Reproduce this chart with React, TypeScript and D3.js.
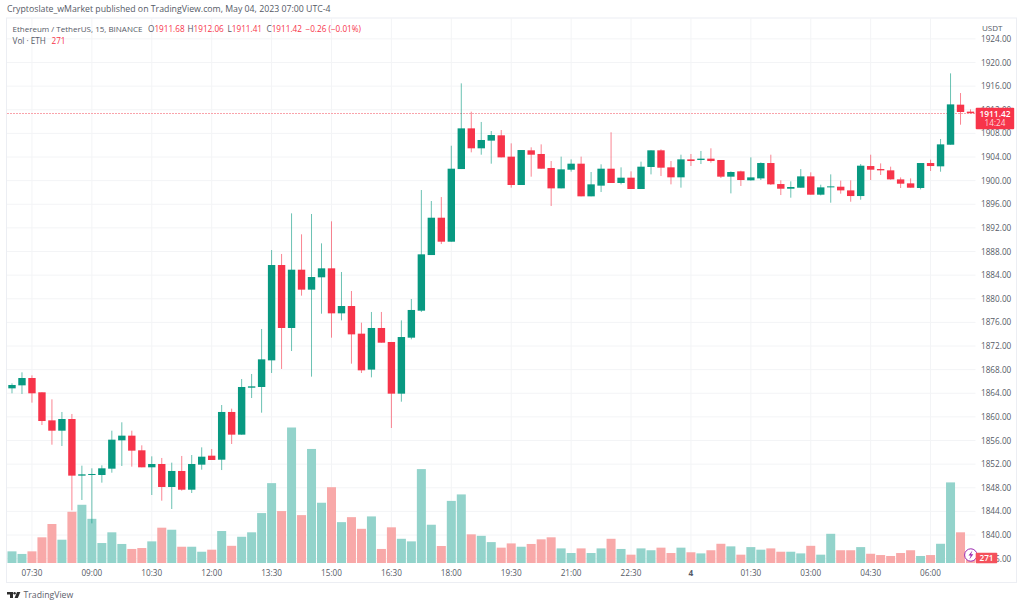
import React from 'react';
import * as d3 from 'd3';

// 15 min candles, ETH/USDT, first bar is 07:00
const opens = [
  1864.83, 1865.34, 1866.58, 1864.16, 1859.41, 1857.66, 1859.64, 1850.05, 1850.16, 1850.16,
  1851.23, 1856.03, 1856.82, 1854.34, 1851.46, 1852.02, 1848.13, 1850.84, 1847.67, 1851.91,
  1853.43, 1852.75, 1860.83, 1856.99, 1864.94, 1865.06, 1869.57, 1885.71, 1875.05, 1884.92,
  1881.54, 1883.63, 1885.15, 1877.53, 1878.77, 1874.09, 1868.0, 1875.05, 1872.68, 1863.93,
  1873.41, 1877.98, 1887.4, 1893.72, 1889.66, 1901.96, 1908.85, 1905.47, 1906.77, 1907.67,
  1904.06, 1899.26, 1905.13, 1904.51, 1902.14, 1898.69, 1901.85, 1902.87, 1897.34, 1899.15,
  1902.02, 1899.6, 1900.5, 1898.58, 1902.31, 1905.13, 1902.25, 1900.56, 1903.6, 1903.49,
  1903.72, 1903.49, 1900.67, 1901.57, 1900.05, 1900.38, 1902.98, 1899.42, 1898.63, 1898.8,
  1900.72, 1897.62, 1898.86, 1898.97, 1898.35, 1897.39, 1902.47, 1901.96, 1901.74, 1900.21,
  1899.54, 1898.75, 1902.98, 1902.42, 1906.08, 1912.86, 1911.68,
];
const closes = [
  1865.4, 1866.58, 1863.99, 1859.3, 1857.66, 1859.64, 1850.05, 1850.27, 1850.33, 1851.29,
  1856.14, 1856.82, 1854.28, 1851.46, 1852.02, 1848.13, 1850.84, 1847.67, 1852.02, 1853.26,
  1852.7, 1860.83, 1856.99, 1865.06, 1865.17, 1869.74, 1885.71, 1875.05, 1884.92, 1881.54,
  1883.68, 1885.15, 1877.53, 1878.77, 1873.97, 1867.88, 1875.05, 1872.56, 1863.93, 1873.52,
  1878.1, 1887.52, 1893.72, 1889.66, 1902.02, 1908.85, 1905.47, 1906.88, 1907.72, 1903.94,
  1899.26, 1905.18, 1904.39, 1902.02, 1898.69, 1901.91, 1902.87, 1897.34, 1899.37, 1902.02,
  1899.6, 1900.5, 1898.58, 1902.36, 1905.13, 1902.19, 1900.56, 1903.6, 1903.32, 1903.72,
  1903.32, 1900.67, 1901.46, 1900.1, 1900.55, 1902.98, 1899.37, 1898.63, 1898.92, 1900.72,
  1897.62, 1898.86, 1899.03, 1898.35, 1897.39, 1902.53, 1901.85, 1901.74, 1900.21, 1899.48,
  1898.8, 1902.98, 1902.47, 1906.14, 1912.91, 1911.62, 1911.42,
];
const highs = [
  1865.68, 1867.54, 1867.03, 1864.16, 1862.97, 1860.83, 1860.49, 1851.74, 1851.29, 1851.8,
  1857.66, 1859.08, 1857.66, 1855.18, 1853.32, 1853.04, 1852.25, 1853.38, 1853.54, 1854.84,
  1854.56, 1862.01, 1861.39, 1866.41, 1867.26, 1874.88, 1888.25, 1887.58, 1894.46, 1890.91,
  1894.35, 1889.38, 1893.11, 1884.53, 1881.31, 1875.95, 1877.76, 1877.76, 1872.68, 1876.34,
  1879.96, 1898.41, 1896.55, 1897.22, 1905.91, 1916.47, 1911.67, 1909.93, 1908.4, 1908.57,
  1906.31, 1905.18, 1905.64, 1906.14, 1903.32, 1904.06, 1903.6, 1904.06, 1901.46, 1902.76,
  1908.18, 1902.25, 1901.57, 1903.21, 1905.13, 1905.3, 1903.32, 1904.39, 1904.51, 1905.02,
  1905.47, 1903.49, 1901.57, 1901.68, 1903.94, 1903.09, 1904.39, 1900.05, 1899.88, 1901.96,
  1901.4, 1899.31, 1901.06, 1900.0, 1900.05, 1902.81, 1904.39, 1902.92, 1902.36, 1900.55,
  1900.38, 1902.98, 1903.54, 1907.04, 1918.16, 1914.83, 1912.06,
];
const lows = [
  1863.99, 1863.87, 1862.41, 1858.62, 1855.29, 1855.07, 1844.17, 1845.93, 1841.97, 1848.86,
  1850.55, 1851.68, 1851.57, 1851.46, 1846.77, 1845.81, 1844.4, 1847.51, 1847.11, 1851.06,
  1852.7, 1851.0, 1855.41, 1856.99, 1863.19, 1860.71, 1867.43, 1868.11, 1871.15, 1880.52,
  1866.81, 1877.47, 1873.41, 1876.34, 1869.01, 1867.43, 1866.69, 1872.56, 1858.12, 1862.57,
  1873.13, 1877.76, 1887.4, 1889.26, 1889.66, 1901.96, 1904.79, 1904.39, 1902.87, 1903.94,
  1898.81, 1899.26, 1900.67, 1902.02, 1895.7, 1898.69, 1901.52, 1897.34, 1897.34, 1898.07,
  1899.6, 1899.37, 1898.58, 1898.58, 1901.06, 1900.78, 1899.37, 1898.81, 1902.48, 1902.81,
  1903.04, 1900.44, 1897.84, 1899.09, 1899.99, 1900.1, 1899.26, 1897.56, 1897.11, 1898.8,
  1897.62, 1897.5, 1896.26, 1897.79, 1896.43, 1896.77, 1900.1, 1900.95, 1900.16, 1898.75,
  1898.8, 1898.52, 1901.63, 1901.51, 1906.08, 1909.47, 1911.41,
];
const volumes = [
  630, 490, 630, 1390, 2110, 1260, 2770, 3150, 2390, 1080,
  1660, 1030, 760, 810, 1170, 1910, 1800, 880, 880, 610,
  720, 1730, 930, 1420, 1660, 2700, 4320, 2810, 7330, 2590,
  6170, 3260, 4100, 2210, 2480, 1850, 2520, 760, 1930, 1310,
  1170, 5080, 2070, 920, 3360, 3710, 1550, 1470, 1130, 830,
  1060, 880, 1030, 1280, 1390, 790, 540, 790, 540, 790,
  1310, 760, 450, 790, 690, 830, 540, 830, 580, 520,
  690, 1040, 900, 450, 860, 720, 790, 610, 610, 520,
  930, 450, 1580, 690, 690, 860, 500, 430, 380, 540,
  690, 380, 430, 1040, 4360, 1660, 271,
];

const priceTicks = d3.range(1836, 1925, 4);
const timeLabels = [
  '07:30', '09:00', '10:30', '12:00', '13:30', '15:00', '16:30', '18:00',
  '19:30', '21:00', '22:30', '4', '01:30', '03:00', '04:30', '06:00',
];
const timeLabelBars = d3.range(2, 93, 6);

const legendTitle = 'Ethereum / TetherUS, 15, BINANCE';
const legendValues = [
  ['O', '1911.68', 148],
  ['H', '1912.06', 187.5],
  ['L', '1911.41', 227.5],
  ['C', '1911.42', 266.5],
];

const GREEN = '#089981';
const RED = '#f7344a';
const GREEN_VOL = '#93d3cb';
const RED_VOL = '#f8a9a9';
const TEXT = '#555a66';
const GRID = '#f3f4f6';
const FONT = '"Open Sans", sans-serif';

const left = 7;
const paneRight = 975.5;
const top = 18;
const paneBottom = 563;

export default function App() {
  const x = d3.scaleBand<number>().domain(d3.range(opens.length)).range([left, paneRight]);
  const cx = (i: number) => (x(i) as number) + x.bandwidth() / 2;
  const y = d3.scaleLinear().domain([1840, 1920]).range([535, 62.5]);
  const yVol = d3.scaleLinear().domain([0, d3.max(volumes) as number]).range([paneBottom, 427.5]);
  const lastY = y(closes[closes.length - 1]);

  return (
    <svg
      width={1024}
      height={607}
      style={{ position: 'absolute', left: 0, top: 0, background: '#fff' }}
      fontFamily={FONT}
    >
      <text x={7} y={12} fontSize={8.75} fill={TEXT}>
        Cryptoslate_wMarket published on TradingView.com, May 04, 2023 07:00 UTC-4
      </text>

      <rect x={6.5} y={18} width={1010} height={564.5} fill="#fff" stroke="#eceef3" />

      <g stroke={GRID}>
        {priceTicks.map((t) => (
          <line key={t} x1={left} x2={paneRight} y1={y(t)} y2={y(t)} />
        ))}
        {timeLabelBars.map((b) => (
          <line key={b} x1={cx(b)} x2={cx(b)} y1={top} y2={paneBottom} />
        ))}
      </g>

      <g>
        {volumes.map((v, i) => (
          <rect
            key={i}
            x={cx(i) - 4.5}
            width={9}
            y={yVol(v)}
            height={paneBottom - yVol(v)}
            fill={closes[i] >= opens[i] ? GREEN_VOL : RED_VOL}
          />
        ))}
      </g>

      <line
        x1={left}
        x2={paneRight}
        y1={Math.round(lastY) + 0.5}
        y2={Math.round(lastY) + 0.5}
        stroke="#f9a3ab"
        strokeDasharray="2 1"
      />

      <g>
        {opens.map((o, i) => {
          const color = closes[i] >= o ? GREEN : RED;
          const bodyTop = y(Math.max(o, closes[i]));
          const bodyBot = y(Math.min(o, closes[i]));
          return (
            <g key={i}>
              <line
                x1={cx(i)}
                x2={cx(i)}
                y1={y(highs[i])}
                y2={y(lows[i])}
                stroke={color}
                strokeOpacity={0.6}
              />
              <rect
                x={cx(i) - 3.7}
                width={7.4}
                y={bodyTop}
                height={Math.max(bodyBot - bodyTop, 1)}
                fill={color}
              />
            </g>
          );
        })}
      </g>

      {/* price axis */}
      <text x={982} y={31} fontSize={8} fill={TEXT}>USDT</text>
      <g fontSize={8.2} fill={TEXT}>
        {priceTicks.map((t) => (
          <text key={t} x={981} y={y(t) + 3}>{t.toFixed(2)}</text>
        ))}
      </g>

      {/* time axis */}
      <g fontSize={8.2} fill={TEXT} textAnchor="middle">
        {timeLabelBars.map((b, i) => (
          <text
            key={b}
            x={cx(b)}
            y={576}
            fontWeight={timeLabels[i] === '4' ? 700 : 400}
          >
            {timeLabels[i]}
          </text>
        ))}
      </g>

      {/* legend */}
      <g fontSize={8.2}>
        <text x={12.5} y={32} fontSize={8} fill={TEXT}>{legendTitle}</text>
        {legendValues.map(([k, v, px]) => (
          <text key={k as string} x={px as number} y={32} fill={TEXT}>
            {k}
            <tspan fill={RED}>{v}</tspan>
          </text>
        ))}
        <text x={305.5} y={32} fill={RED}>−0.26 (−0.01%)</text>
        <text x={12.5} y={44} fill={TEXT}>Vol · ETH</text>
        <text x={51.5} y={44} fill={RED}>{volumes[volumes.length - 1]}</text>
      </g>

      {/* last price tag */}
      <rect x={975.7} y={lastY - 5.5} width={38.5} height={21.5} rx={1} fill={RED} />
      <text x={995} y={lastY + 3.6} fontSize={8.4} fontWeight={600} fill="#fff" textAnchor="middle">
        {closes[closes.length - 1].toFixed(2)}
      </text>
      <text x={995} y={lastY + 13} fontSize={8.2} fill="#fff" fillOpacity={0.8} textAnchor="middle">14:24</text>

      {/* volume tag and the lightning badge */}
      <circle cx={970.8} cy={555} r={6.2} fill="#fff" stroke="#9c27b0" />
      <path d="M972.5 550.5 L968.5 555.6 L970.8 555.6 L969.3 559.5 L973.3 554.3 L971 554.3 Z" fill="#9c27b0" />
      <rect x={975.7} y={552.7} width={21.6} height={10.6} rx={1} fill="#f4515c" />
      <text x={986.5} y={561} fontSize={8.2} fontWeight={600} fill="#fff" textAnchor="middle">
        {volumes[volumes.length - 1]}
      </text>

      {/* footer logo */}
      <g fill="#2e2e2e">
        <path d="M7 592 H13 V598 H10 V594.6 H7 Z" />
        <circle cx={14.6} cy={593.2} r={1.2} />
        <path d="M17 592 H20.4 L17.8 598 H14.6 Z" />
      </g>
      <text x={23.5} y={597.5} fontSize={8.7} fill="#5d606b">TradingView</text>
    </svg>
  );
}
